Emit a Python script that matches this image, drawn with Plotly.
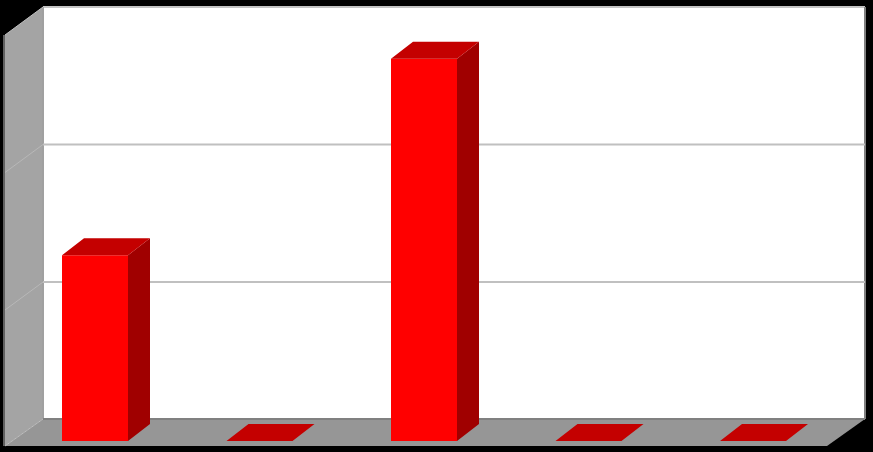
import plotly.graph_objects as go

W, H = 873, 452

# no labels on the chart so the unit is a guess
categories = [0, 1, 2, 3, 4]
values = [27, 0, 55.6, 0, 0]
grid_values = [20, 40]

# pixels per unit, position of category 0 and of value 0 on the bar front
PX_X = 164.5
PX_Y = 6.875
X0_PX = 95
Y0_PX = 441

BAR_W = 66 / PX_X
BAR_DX = 22 / PX_X
BAR_DY = 17 / PX_Y

RED = "#ff0000"
TOP_RED = "#c40000"
SIDE_RED = "#a00000"


def px_x(px):
    return (px - X0_PX) / PX_X


def px_y(px):
    return (Y0_PX - px) / PX_Y


def poly(points, fill, line=None, width=0):
    path = "M" + " L".join(f"{px_x(a)},{px_y(b)}" for a, b in points) + " Z"
    return dict(type="path", path=path, xref="x", yref="y", layer="below",
                fillcolor=fill, line=dict(color=line or fill, width=width))


def seg(x0, y0, x1, y1, color, width):
    return dict(type="line", x0=px_x(x0), y0=px_y(y0), x1=px_x(x1), y1=px_y(y1),
                xref="x", yref="y", layer="below", line=dict(color=color, width=width))


shapes = [
    poly([(43, 7), (865, 7), (865, 419), (43, 419)], "#ffffff"),
    poly([(5, 35), (43, 7), (43, 419), (5, 446)], "#a4a4a4"),
    poly([(43, 419), (865, 419), (827, 446), (5, 446)], "#969696"),
    seg(43, 7, 865, 7, "#c4c4c4", 2),
    seg(43, 7, 43, 419, "#a0a0a0", 2),
    seg(865, 7, 865, 419, "#808080", 2),
    seg(43, 419, 865, 419, "#808080", 2),
    seg(5, 35, 43, 7, "#c0c0c0", 1),
    seg(5, 446, 43, 419, "#c0c0c0", 1),
    seg(4, 35, 4, 446, "#c0c0c0", 1),
]
for g in grid_values:
    # gridlines sit on the back wall and run down the side wall
    back_y = Y0_PX - 21.5 - g * PX_Y
    shapes.append(seg(43, back_y, 865, back_y, "#c0c0c0", 2))
    shapes.append(seg(5, back_y + 28, 43, back_y, "#b8b8b8", 1))

side_x, side_y, top_x, top_y = [], [], [], []
for c, v in zip(categories, values):
    left = c - BAR_W / 2
    right = c + BAR_W / 2
    top_x += [left, right, right + BAR_DX, left + BAR_DX, left, None]
    top_y += [v, v, v + BAR_DY, v + BAR_DY, v, None]
    if v > 0:
        side_x += [right, right + BAR_DX, right + BAR_DX, right, right, None]
        side_y += [0, BAR_DY, v + BAR_DY, v, 0, None]

fig = go.Figure()
fig.add_trace(go.Bar(x=categories, y=values, width=BAR_W, marker=dict(color=RED, line=dict(width=0))))
fig.add_trace(go.Scatter(x=side_x, y=side_y, mode="lines", fill="toself", fillcolor=SIDE_RED,
                         line=dict(width=0, color=SIDE_RED)))
fig.add_trace(go.Scatter(x=top_x, y=top_y, mode="lines", fill="toself", fillcolor=TOP_RED,
                         line=dict(width=0, color=TOP_RED)))

fig.update_xaxes(visible=False, range=[px_x(0), px_x(W)], fixedrange=True)
fig.update_yaxes(visible=False, range=[px_y(H), px_y(0)], fixedrange=True)
fig.update_layout(width=W, height=H, margin=dict(l=0, r=0, t=0, b=0, pad=0),
                  paper_bgcolor="#000000", plot_bgcolor="#000000",
                  showlegend=False, shapes=shapes)

fig.write_html("out.html", config={"displayModeBar": False},
               post_script="document.body.style.margin='0';document.body.style.background='#000';")
